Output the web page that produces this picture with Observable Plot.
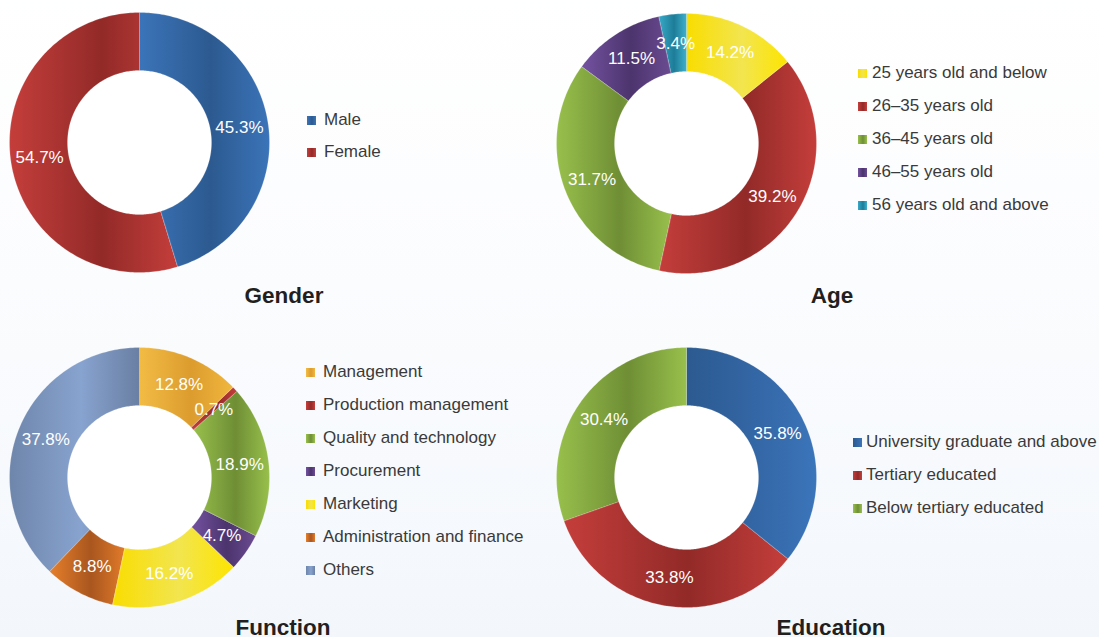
<!DOCTYPE html>
<html>
<head>
<meta charset="utf-8">
<script src="https://cdn.jsdelivr.net/npm/d3@7"></script>
<script src="https://cdn.jsdelivr.net/npm/@observablehq/plot@0.6"></script>
<style>
  html, body { margin: 0; padding: 0; }
  body { width: 1099px; height: 637px; overflow: hidden; background: linear-gradient(#ffffff 0%, #fbfcfe 45%, #f3f7fc 100%); font-family: "Liberation Sans", Arial, sans-serif; }
  #root { position: relative; width: 1099px; height: 637px; }
  .panel { position: absolute; }
  .title { position: absolute; font-weight: bold; font-size: 22.5px; color: #231f20; transform: translate(-50%, -50%); white-space: nowrap; }
  .lrow { position: absolute; display: flex; align-items: center; font-size: 17px; color: #3a3a3a; white-space: nowrap; transform: translateY(-50%); }
  .sw { width: 9px; height: 9px; flex: none; }
</style>
</head>
<body>
<div id="root"></div>
<script>
// ---------------- data ----------------
const genderCategories = ["Male", "Female"];
const genderValues = [45.3, 54.7];

const ageCategories = ["25 years old and below", "26–35 years old", "36–45 years old", "46–55 years old", "56 years old and above"];
const ageValues = [14.2, 39.2, 31.7, 11.5, 3.4];

const functionCategories = ["Management", "Production management", "Quality and technology", "Procurement", "Marketing", "Administration and finance", "Others"];
const functionValues = [12.8, 0.7, 18.9, 4.7, 16.2, 8.8, 37.8];

const educationCategories = ["University graduate and above", "Tertiary educated", "Below tertiary educated"];
const educationValues = [35.8, 33.8, 30.4];

const chartTitles = ["Gender", "Age", "Function", "Education"];

// ---------------- styles (gradient stops: left, middle, right) ----------------
const BLUE = ["#3b74b9", "#2c5a90", "#3b74b9"];
const BLUE_ED = ["#2c5a90", "#3467a6", "#3b75ba"];
const RED = ["#c43e3b", "#922a28", "#c43e3b"];
const GREEN = ["#98c04c", "#6f8e35", "#98c04c"];
const PURPLE = ["#7352a0", "#4c346d", "#6b4b92"];
const TEAL = ["#38a9c7", "#1d7d98", "#3fb0cc"];
const YELLOW = ["#f9dd00", "#f2e54f", "#fde400"];
const GOLD = ["#f2bc44", "#dc9c2e", "#f0b73e"];
const ORANGE = ["#e67f2b", "#a9561f", "#e07a2a"];
const SLATE = ["#6f86ab", "#87a3cf", "#6a7fa3"];

const panels = [
  { key: "gender", cats: genderCategories, vals: genderValues, grads: [BLUE, RED],
    left: 0, top: 0, W: 549, H: 320, cx: 139, cy: 142,
    title: chartTitles[0], tx: 284, ty: 296, lx: 307, ly: 120, lstep: 32, gap: 8 },
  { key: "age", cats: ageCategories, vals: ageValues, grads: [YELLOW, RED, GREEN, PURPLE, TEAL],
    left: 549, top: 0, W: 550, H: 320, cx: 137, cy: 143,
    title: chartTitles[1], tx: 832, ty: 296, lx: 858, ly: 73, lstep: 33, gap: 5 },
  { key: "function", cats: functionCategories, vals: functionValues, grads: [GOLD, RED, GREEN, PURPLE, YELLOW, ORANGE, SLATE],
    left: 0, top: 320, W: 549, H: 317, cx: 139, cy: 157,
    title: chartTitles[2], tx: 283, ty: 628, lx: 306, ly: 372, lstep: 33, gap: 8 },
  { key: "education", cats: educationCategories, vals: educationValues, grads: [BLUE_ED, RED, GREEN],
    left: 549, top: 320, W: 550, H: 317, cx: 137, cy: 157,
    title: chartTitles[3], tx: 831, ty: 628, lx: 853, ly: 442, lstep: 33, gap: 4 }
];

const R = 130;          // outer radius in px
const INNER = 72 / 130; // inner radius as fraction of outer
const LABEL_R = (1 + INNER) / 2;

const root = document.getElementById("root");
const NS = "http://www.w3.org/2000/svg";

function makeSlices(cats, vals) {
  const total = d3.sum(vals);
  let acc = 0;
  return cats.map((c, i) => {
    const a0 = acc / total * 2 * Math.PI;
    acc += vals[i];
    const a1 = acc / total * 2 * Math.PI;
    return { c, v: vals[i], a0, a1, mid: (a0 + a1) / 2 };
  });
}

function ringPoints(s) {
  const n = Math.max(2, Math.ceil((s.a1 - s.a0) / (Math.PI / 180)));
  const pts = [];
  for (let k = 0; k <= n; k++) {
    const a = s.a0 + (s.a1 - s.a0) * k / n;
    pts.push({ c: s.c, x: Math.sin(a), y: Math.cos(a) });
  }
  for (let k = n; k >= 0; k--) {
    const a = s.a0 + (s.a1 - s.a0) * k / n;
    pts.push({ c: s.c, x: INNER * Math.sin(a), y: INNER * Math.cos(a) });
  }
  return pts;
}

panels.forEach(p => {
  const slices = makeSlices(p.cats, p.vals);
  const points = slices.flatMap(ringPoints);
  const ids = p.cats.map((c, i) => `${p.key}-g${i}`);

  const svg = Plot.plot({
    width: p.W,
    height: p.H,
    margin: 0,
    style: { background: "transparent", fontFamily: "'Liberation Sans', Arial, sans-serif", overflow: "visible" },
    x: { domain: [-p.cx / R, (p.W - p.cx) / R], axis: null },
    y: { domain: [-(p.H - p.cy) / R, p.cy / R], axis: null },
    color: { domain: p.cats, range: ids.map(id => `url(#${id})`) },
    marks: [
      Plot.dot([{ x: 0, y: 0 }], { x: "x", y: "y", r: INNER * R, fill: "white", stroke: "none" }),
      Plot.line(points, { x: "x", y: "y", z: "c", fill: "c", stroke: "#ffffff", strokeWidth: 0.4, strokeOpacity: 0.5, curve: "linear-closed" }),
      Plot.text(slices, {
        x: d => LABEL_R * Math.sin(d.mid),
        y: d => LABEL_R * Math.cos(d.mid),
        text: d => d.v.toFixed(1) + "%",
        fill: "white",
        fontSize: 17,
        fontWeight: 300
      })
    ]
  });

  // gradient definitions for the slice fills
  const defs = document.createElementNS(NS, "defs");
  p.grads.forEach((g, i) => {
    const lg = document.createElementNS(NS, "linearGradient");
    lg.setAttribute("id", ids[i]);
    lg.setAttribute("x1", "0"); lg.setAttribute("x2", "1");
    lg.setAttribute("y1", "0"); lg.setAttribute("y2", "0");
    [[0, g[0]], [0.55, g[1]], [1, g[2]]].forEach(([o, col]) => {
      const st = document.createElementNS(NS, "stop");
      st.setAttribute("offset", o);
      st.setAttribute("stop-color", col);
      lg.appendChild(st);
    });
    defs.appendChild(lg);
  });
  svg.insertBefore(defs, svg.firstChild);

  const wrap = document.createElement("div");
  wrap.className = "panel";
  wrap.style.left = p.left + "px";
  wrap.style.top = p.top + "px";
  wrap.style.width = p.W + "px";
  wrap.style.height = p.H + "px";
  wrap.appendChild(svg);
  root.appendChild(wrap);

  // title
  const t = document.createElement("div");
  t.className = "title";
  t.textContent = p.title;
  t.style.left = p.tx + "px";
  t.style.top = p.ty + "px";
  root.appendChild(t);

  // legend
  p.cats.forEach((c, i) => {
    const row = document.createElement("div");
    row.className = "lrow";
    row.style.left = p.lx + "px";
    row.style.top = (p.ly + i * p.lstep) + "px";
    const sw = document.createElement("span");
    sw.className = "sw";
    const g = p.grads[i];
    sw.style.background = `linear-gradient(90deg, ${g[0]}, ${g[1]} 55%, ${g[2]})`;
    sw.style.marginRight = p.gap + "px";
    const tx = document.createElement("span");
    tx.textContent = c;
    row.appendChild(sw);
    row.appendChild(tx);
    root.appendChild(row);
  });
});
</script>
</body>
</html>
